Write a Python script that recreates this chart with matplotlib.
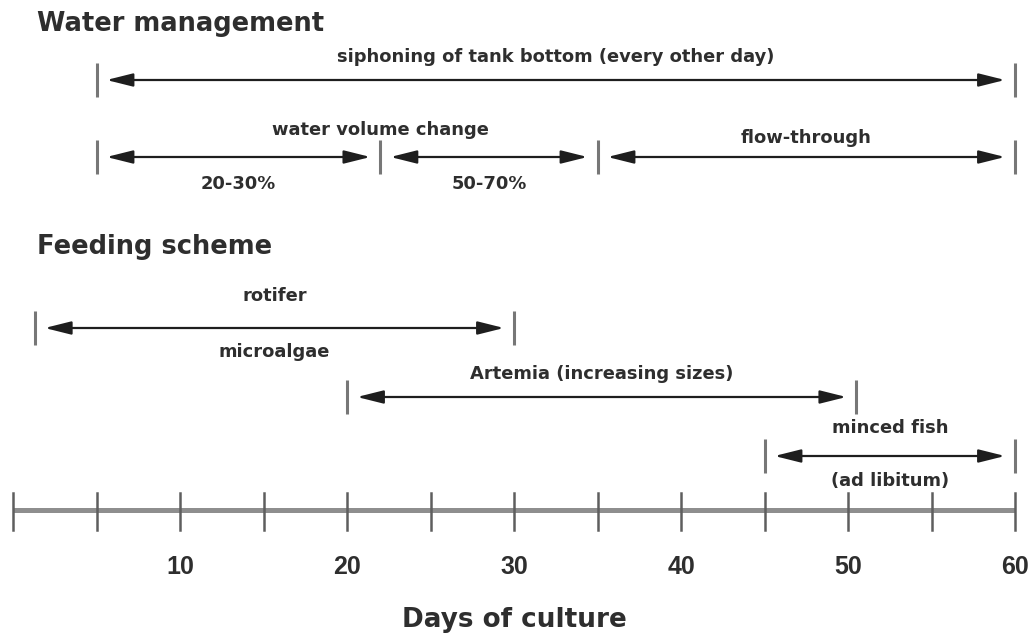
"""Culture timeline: water management and feeding scheme."""
import matplotlib
matplotlib.use("Agg")
import matplotlib.pyplot as plt
from matplotlib.patches import FancyArrowPatch

plt.rcParams["font.family"] = ["DejaVu Sans"]

# timeline data (days of culture)
siphon_days = [5, 60]
volume_days = [5, 22, 35, 60]
volume_labels = ["20-30%", "50-70%", "flow-through"]
rotifer_days = [1.3, 30]
artemia_days = [20, 50.5]
fish_days = [45, 60]
tick_days = list(range(0, 61, 5))
tick_labels = ["10", "20", "30", "40", "50", "60"]

PX = 16.7  # pixels per day
fig = plt.figure(figsize=(10.33, 6.36), dpi=100)
ax = fig.add_axes([0, 0, 1, 1])
ax.set_xlim(-13 / PX, (1033 - 13) / PX)
ax.set_ylim(636, 0)
ax.axis("off")

TXT = "#2e2e2e"
BAR = "#777777"
GAP = 0.6


def bar(d, y, h=17):
    ax.plot([d, d], [y - h, y + h], color=BAR, lw=2.2, solid_capstyle="butt")


def arrow(d0, d1, y, bars=True):
    if bars:
        bar(d0, y)
        bar(d1, y)
    a = FancyArrowPatch((d0 + GAP, y), (d1 - GAP, y),
                        arrowstyle="<|-|>,head_length=1.6,head_width=0.4",
                        mutation_scale=10, color="#1e1e1e", lw=1.6,
                        shrinkA=0, shrinkB=0)
    ax.add_patch(a)


def label(d, y, s, size=12.9):
    ax.text(d, y, s, ha="center", va="center", fontsize=size,
            fontweight="bold", color=TXT)


# headings
ax.text(24 / PX, 24, "Water management", fontsize=18.5,
        fontweight="bold", color=TXT, va="center", ha="left")
ax.text(24 / PX, 247, "Feeding scheme", fontsize=18.5,
        fontweight="bold", color=TXT, va="center", ha="left")

# water management
arrow(siphon_days[0], siphon_days[1], 80)
label(sum(siphon_days) / 2, 57, "siphoning of tank bottom (every other day)")
for d in volume_days:
    bar(d, 157)
for i in range(3):
    arrow(volume_days[i], volume_days[i + 1], 157, bars=False)
label(volume_days[1], 130, "water volume change")
label((volume_days[0] + volume_days[1]) / 2, 184, volume_labels[0])
label((volume_days[1] + volume_days[2]) / 2, 184, volume_labels[1])
label((volume_days[2] + volume_days[3]) / 2, 138, volume_labels[2])

# feeding scheme
arrow(rotifer_days[0], rotifer_days[1], 328)
label(sum(rotifer_days) / 2, 296, "rotifer")
label(sum(rotifer_days) / 2, 352, "microalgae")
arrow(artemia_days[0], artemia_days[1], 397)
label(sum(artemia_days) / 2, 374, "Artemia (increasing sizes)")
arrow(fish_days[0], fish_days[1], 456)
label(sum(fish_days) / 2, 428, "minced fish")
label(sum(fish_days) / 2, 481, "(ad libitum)")

# day axis
ax.plot([tick_days[0], tick_days[-1]], [510, 510], color="#8e8e8e", lw=3.6,
        solid_capstyle="butt")
for d in tick_days:
    ax.plot([d, d], [493, 530], color="#5e5e5e", lw=1.8)
for d, s in zip(tick_days[2::2], tick_labels):
    ax.text(d, 567, s, ha="center", va="center", fontsize=18,
            fontweight="bold", color=TXT, family="Liberation Sans")
ax.text(30, 620, "Days of culture", ha="center", va="center", fontsize=18.9,
        fontweight="bold", color=TXT)

fig.savefig("out.png", dpi=100)
plt.close(fig)
